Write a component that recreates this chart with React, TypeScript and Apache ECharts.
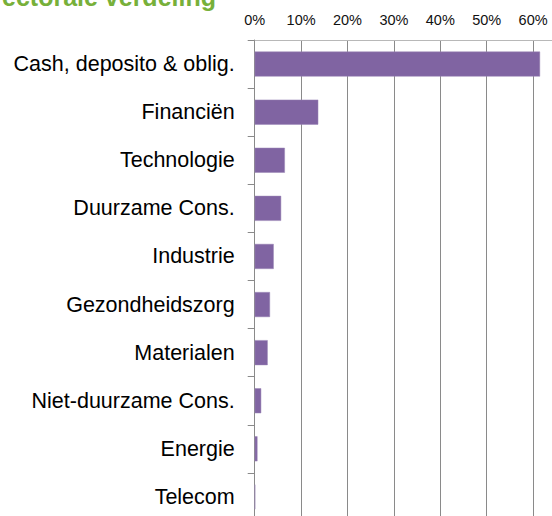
import React, { useEffect, useRef } from "react";
import * as echarts from "echarts";

const categories = [
  "Cash, deposito & oblig.",
  "Financiën",
  "Technologie",
  "Duurzame Cons.",
  "Industrie",
  "Gezondheidszorg",
  "Materialen",
  "Niet-duurzame Cons.",
  "Energie",
  "Telecom",
];
const values = [61.5, 13.7, 6.5, 5.7, 4.1, 3.3, 2.8, 1.4, 0.6, 0.1];
const titleText = "ectorale verdeling";
const axisMax = 70;
const lastShownTick = 60;

const FONT = "'Liberation Sans', Arial, sans-serif";

export default function App() {
  const ref = useRef<HTMLDivElement>(null);
  useEffect(() => {
    const chart = echarts.init(ref.current!, null, { renderer: "svg" });
    chart.setOption({
      animation: false,
      graphic: [
        {
          type: "text",
          left: 2,
          top: -16,
          style: {
            text: titleText,
            fill: "#77B03A",
            font: `bold 25px ${FONT}`,
          },
        },
      ],
      grid: { left: 254.7, top: 40, right: 20.5, bottom: 9, containLabel: false },
      xAxis: {
        type: "value",
        position: "top",
        min: 0,
        max: axisMax,
        interval: 10,
        axisLine: { show: true, lineStyle: { color: "#b8b8b8", width: 1 } },
        axisTick: { show: false },
        axisLabel: {
          formatter: (v: number) => (v > lastShownTick ? "" : `${v}%`),
          fontSize: 14.5,
          color: "#111",
          margin: 13,
          fontFamily: FONT,
        },
        splitLine: { show: true, lineStyle: { color: "#8a8a8a", width: 1 } },
      },
      yAxis: {
        type: "category",
        inverse: true,
        data: categories,
        axisLine: { show: true, lineStyle: { color: "#8a8a8a", width: 1 } },
        axisTick: { show: true, length: 7, lineStyle: { color: "#8a8a8a" } },
        axisLabel: {
          fontSize: 21.5,
          color: "#000",
          margin: 20,
          fontFamily: FONT,
        },
        splitLine: { show: false },
      },
      series: [
        {
          type: "bar",
          data: values,
          barWidth: 25,
          itemStyle: { color: "#8064A2", borderColor: "#9a86b6", borderWidth: 0.5 },
        },
      ],
    });
    return () => chart.dispose();
  }, []);
  return (
    <div
      style={{
        position: "fixed",
        left: 0,
        top: 0,
        width: 552,
        height: 516,
        overflow: "hidden",
        background: "#fff",
      }}
    >
      <div ref={ref} style={{ width: 600, height: 530 }} />
    </div>
  );
}
